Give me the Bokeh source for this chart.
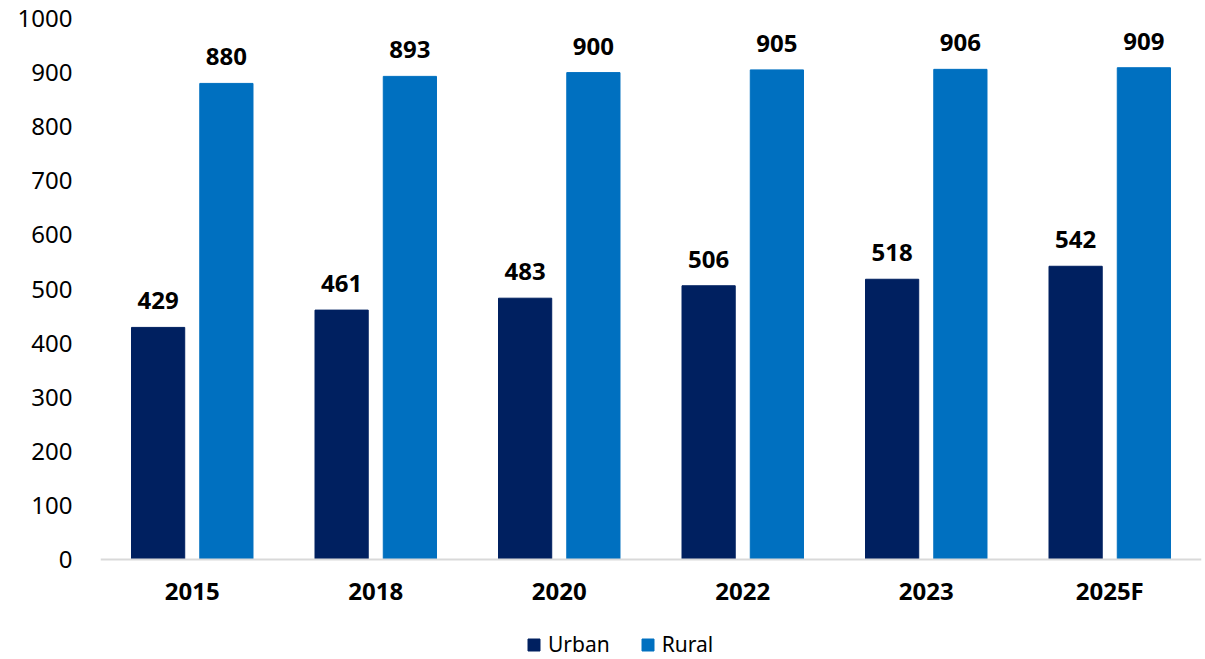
from bokeh.plotting import figure
from bokeh.models import ColumnDataSource, FactorRange, Range1d, FixedTicker, LabelSet, Legend, LegendItem
from bokeh.transform import dodge
from bokeh.core.properties import value
from bokeh.embed import file_html
from bokeh.resources import INLINE

years = ["2015", "2018", "2020", "2022", "2023", "2025F"]
urban = [429, 461, 483, 506, 518, 542]
rural = [880, 893, 900, 905, 906, 909]
y_ticks = [0, 100, 200, 300, 400, 500, 600, 700, 800, 900, 1000]

URBAN_C = "#002060"
RURAL_C = "#0070C0"
FONT = "Noto Sans"

W, H = 1205, 659
TOP, ZERO_PX = 18, 559            # pixel rows of the 1000 and 0 gridlines
Y_MAX = 1000
y_start = -Y_MAX * (H - ZERO_PX) / (ZERO_PX - TOP)

src = ColumnDataSource(dict(years=years, urban=urban, rural=rural,
                            ulab=[str(v) for v in urban], rlab=[str(v) for v in rural]))

p = figure(x_range=FactorRange(*years, range_padding=0), y_range=Range1d(y_start, Y_MAX),
           width=W, height=H, output_backend="svg", toolbar_location=None,
           min_border_left=100, min_border_right=4, min_border_top=TOP, min_border_bottom=0)
p.outline_line_color = None
p.background_fill_color = "white"
p.border_fill_color = "white"

OFF = 0.186
ur = p.vbar(x=dodge("years", -OFF, range=p.x_range), top="urban", width=0.29, source=src,
            fill_color=URBAN_C, line_color=URBAN_C)
rr = p.vbar(x=dodge("years", OFF, range=p.x_range), top="rural", width=0.29, source=src,
            fill_color=RURAL_C, line_color=RURAL_C)

for col, ycol, off in (("ulab", "urban", -OFF), ("rlab", "rural", OFF)):
    lbl = LabelSet(x=dodge("years", off, range=p.x_range), y=ycol, text=col, source=src,
                   text_align="center", text_baseline="alphabetic", y_offset=18,
                   text_font=value(FONT), text_font_style="bold", text_font_size="24px",
                   text_color="#000000")
    p.add_layout(lbl)

p.xgrid.grid_line_color = None
p.ygrid.grid_line_color = None

p.yaxis.ticker = FixedTicker(ticks=y_ticks)
p.yaxis.axis_line_color = None
p.yaxis.major_tick_line_color = None
p.yaxis.minor_tick_line_color = None
p.yaxis.major_label_standoff = 22
p.yaxis.major_label_text_font = FONT
p.yaxis.major_label_text_font_size = "24px"
p.yaxis.major_label_text_color = "#000000"

p.xaxis.fixed_location = 0
p.xaxis.axis_line_color = "#D9D9D9"
p.xaxis.axis_line_width = 2
p.xaxis.major_tick_line_color = None
p.xaxis.minor_tick_line_color = None
p.xaxis.major_label_standoff = 8
p.xaxis.major_label_text_font = FONT
p.xaxis.major_label_text_font_style = "bold"
p.xaxis.major_label_text_font_size = "24px"
p.xaxis.major_label_text_color = "#000000"

legend = Legend(items=[LegendItem(label="Urban", renderers=[ur]),
                       LegendItem(label="Rural", renderers=[rr])],
                orientation="horizontal", location=(426, 1),
                glyph_width=15, glyph_height=15, label_standoff=7, spacing=30,
                padding=0, margin=0, border_line_color=None, background_fill_alpha=0,
                label_text_font=FONT, label_text_font_size="21px", label_text_color="#000000")
p.add_layout(legend, "center")

open("out.html", "w").write(file_html(p, INLINE))
